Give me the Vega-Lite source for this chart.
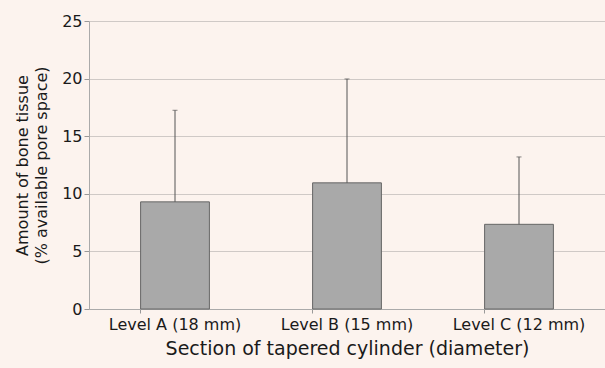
{
  "$schema": "https://vega.github.io/schema/vega-lite/v6.json",
  "autosize": {"type": "none"},
  "width": 516,
  "height": 288,
  "padding": {"left": 89, "top": 21, "right": 0, "bottom": 59},
  "background": "#fcf3ee",
  "config": {
    "view": {"stroke": null},
    "font": "DejaVu Sans",
    "axis": {"labelColor": "#1a1a1a", "titleColor": "#1a1a1a", "labelFont": "DejaVu Sans", "titleFont": "DejaVu Sans", "titleFontWeight": "normal"}
  },
  "data": {
    "values": [
      {"level": "Level A (18 mm)", "mean": 9.3, "upper": 17.25},
      {"level": "Level B (15 mm)", "mean": 10.95, "upper": 19.97},
      {"level": "Level C (12 mm)", "mean": 7.35, "upper": 13.2}
    ]
  },
  "encoding": {
    "x": {
      "field": "level",
      "type": "nominal",
      "sort": null,
      "scale": {"paddingInner": 0.6, "paddingOuter": 0.3},
      "axis": {
        "title": "Section of tapered cylinder (diameter)",
        "labelAngle": 0,
        "labelFontSize": 16,
        "titleFontSize": 19,
        "bandPosition": 0,
        "tickSize": 4,
        "tickColor": "#999999",
        "domainColor": "#aaaaaa",
        "labelPadding": 3,
        "titlePadding": 7
      }
    }
  },
  "layer": [
    {
      "mark": {"type": "bar", "fill": "#a9a9a9", "stroke": "#666666", "strokeWidth": 1},
      "encoding": {
        "y": {
          "field": "mean",
          "type": "quantitative",
          "scale": {"domain": [0, 25], "nice": false},
          "axis": {
            "title": ["Amount of bone tissue", "(% available pore space)"],
            "values": [0, 5, 10, 15, 20, 25],
            "labelFontSize": 16,
            "titleFontSize": 16,
            "titleLineHeight": 19,
            "grid": true,
            "gridColor": "#cfc9c6",
            "tickSize": 5,
            "tickColor": "#999999",
            "domainColor": "#aaaaaa",
            "labelPadding": 2,
            "titlePadding": 12
          }
        }
      }
    },
    {
      "mark": {"type": "rule", "color": "#555555", "strokeWidth": 1},
      "encoding": {
        "y": {"field": "mean", "type": "quantitative", "scale": {"domain": [0, 25], "nice": false}},
        "y2": {"field": "upper"}
      }
    },
    {
      "mark": {"type": "tick", "orient": "horizontal", "color": "#555555", "size": 5, "thickness": 1},
      "encoding": {
        "y": {"field": "upper", "type": "quantitative", "scale": {"domain": [0, 25], "nice": false}}
      }
    }
  ]
}
